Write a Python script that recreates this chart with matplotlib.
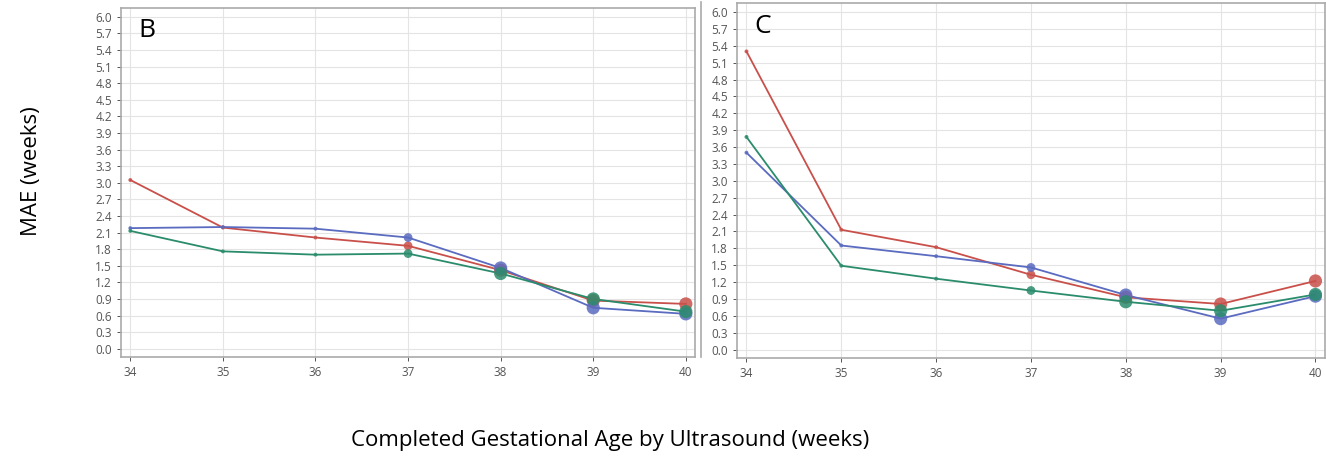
import numpy as np
import matplotlib.pyplot as plt
from matplotlib.lines import Line2D

weeks = [34, 35, 36, 37, 38, 39, 40]

# panel B
b_red = [3.05, 2.19, 2.01, 1.86, 1.42, 0.87, 0.81]
b_blue = [2.18, 2.20, 2.17, 2.01, 1.46, 0.74, 0.63]
b_green = [2.13, 1.76, 1.70, 1.72, 1.36, 0.90, 0.67]

# panel C
c_red = [5.30, 2.13, 1.82, 1.33, 0.93, 0.81, 1.22]
c_blue = [3.50, 1.85, 1.66, 1.46, 0.97, 0.55, 0.95]
c_green = [3.78, 1.49, 1.26, 1.05, 0.85, 0.69, 0.98]

yticks = np.round(np.arange(0, 6.01, 0.3), 1)

colors = {'red': '#c9504a', 'blue': '#5a6bc0', 'green': '#2a8c6c'}
msizes = [8, 8, 8, 40, 90, 90, 90]

plt.rcParams['font.family'] = ['Open Sans', 'DejaVu Sans']

fig = plt.figure(figsize=(13.26, 4.59), dpi=100)
ax1 = fig.add_axes([0.0913, 0.2222, 0.4329, 0.7604])
ax2 = fig.add_axes([0.5558, 0.2200, 0.4434, 0.7734])

panels = [(ax1, 'B', b_red, b_blue, b_green), (ax2, 'C', c_red, c_blue, c_green)]
for ax, letter, red, blue, green in panels:
    for name, vals in [('red', red), ('blue', blue), ('green', green)]:
        ax.plot(weeks, vals, color=colors[name], lw=1.3, zorder=3)
        ax.scatter(weeks, vals, s=msizes, color=colors[name], zorder=4,
                   alpha=0.85, edgecolors='none')
    ax.set_xlim(33.9, 40.1)
    ax.set_ylim(-0.15, 6.16)
    ax.set_xticks(weeks)
    ax.set_yticks(yticks)
    ax.set_yticklabels([f'{v:.1f}' for v in yticks])
    ax.grid(True, color='#e4e4e4', lw=0.8, zorder=0)
    ax.tick_params(labelsize=8.5, colors='#555555', length=3, width=0.7)
    for s in ax.spines.values():
        s.set_color('#aaaaaa')
        s.set_linewidth(1.2)
    ax.text(0.03, 0.97, letter, transform=ax.transAxes, fontsize=19,
            va='top', ha='left', color='black')

# separator border between the two panels
fig.add_artist(Line2D([701 / 1326, 701 / 1326], [0.222, 0.996],
                      transform=fig.transFigure, color='#aaaaaa', lw=1.2))

fig.text(0.024, 0.627, 'MAE (weeks)', rotation=90, fontsize=16, va='center', ha='center')
fig.text(0.46, 0.04, 'Completed Gestational Age by Ultrasound (weeks)', fontsize=16,
         ha='center', va='center')

plt.savefig('out.png', dpi=100)
plt.close()
